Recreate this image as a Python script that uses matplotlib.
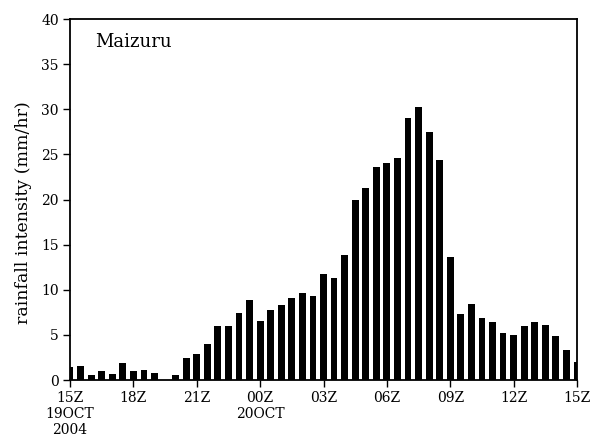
import matplotlib
matplotlib.use("Agg")
import matplotlib.pyplot as plt
import numpy as np

# hours since 15Z 19 OCT 2004, every 30 minutes
hours = np.arange(0, 24.01, 0.5)
rain = [1.4, 1.55, 0.55, 1.05, 0.7, 1.9, 1.05, 1.15, 0.8, 0.0,
        0.55, 2.45, 2.9, 4.0, 6.0, 6.0, 7.45, 8.85, 6.55, 7.75,
        8.3, 9.1, 9.65, 9.3, 11.75, 11.3, 13.85, 19.95, 21.25, 23.6,
        24.05, 24.6, 29.0, 30.3, 27.45, 24.35, 13.65, 7.3, 8.4, 6.9,
        6.45, 5.2, 5.0, 6.0, 6.45, 6.1, 4.9, 3.35, 2.0]
tick_pos = [0, 3, 6, 9, 12, 15, 18, 21, 24]
tick_labels = ["15Z\n19OCT\n2004", "18Z", "21Z", "00Z\n20OCT", "03Z",
               "06Z", "09Z", "12Z", "15Z"]
y_ticks = [0, 5, 10, 15, 20, 25, 30, 35, 40]

plt.rcParams['font.family'] = ['DejaVu Serif']
fig = plt.figure(figsize=(5.94, 4.41), dpi=100)
ax = fig.add_axes([70/594, 61/441, 507/594, 361/441])
ax.bar(hours, rain, width=0.32, color='black', align='center')
ax.set_xlim(0, 24)
ax.set_ylim(0, 40)
ax.set_xticks(tick_pos)
ax.set_xticklabels(tick_labels, fontsize=10, linespacing=1.18)
ax.set_yticks(y_ticks)
ax.set_yticklabels([str(v) for v in y_ticks], fontsize=10)
ax.tick_params(axis='both', direction='out', length=5, width=1, top=False, right=False)
ax.tick_params(axis='x', pad=3)
ax.tick_params(axis='y', pad=3)
for s in ax.spines.values():
    s.set_linewidth(1.3)
ax.set_ylabel("rainfall intensity (mm/hr)", fontsize=12.5)
ax.yaxis.set_label_coords(-0.074, 0.465)
ax.text(0.05, 0.935, "Maizuru", transform=ax.transAxes, fontsize=13,
        ha='left', va='center')
fig.savefig("out.png", dpi=100)
